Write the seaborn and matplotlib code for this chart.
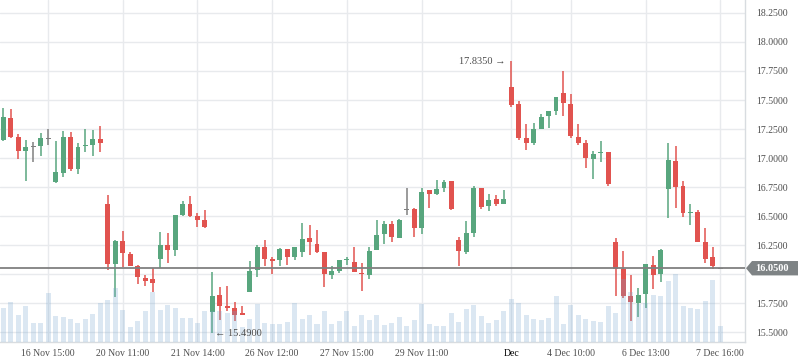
import numpy as np
import pandas as pd
import matplotlib
matplotlib.use("Agg")
import matplotlib.pyplot as plt
import matplotlib.transforms as mtransforms
from matplotlib.patches import Polygon
import seaborn as sns

# OHLC values, one entry per bar
opens = [17.155, 17.345, 17.181, 17.060, 17.100, 17.106, 17.169, 16.793, 16.873, 17.181,
         16.905, 17.106, 17.115, 17.161, 16.603, 16.089, 16.284, 16.172, 16.072, 15.965,
         15.957, 16.129, 16.250, 16.207, 16.508, 16.603, 16.500, 16.465, 15.675, 15.819,
         15.724, 15.704, 15.664, 15.848, 16.031, 16.233, 16.132, 16.124, 16.216, 16.149,
         16.193, 16.310, 16.259, 16.190, 15.994, 16.029, 16.122, 16.101, 16.009, 15.994,
         16.210, 16.348, 16.431, 16.308, 16.557, 16.557, 16.399, 16.721, 16.690, 16.739,
         16.802, 16.293, 16.193, 16.356, 16.744, 16.589, 16.646, 16.603, 17.612, 17.465,
         17.172, 17.132, 17.253, 17.362, 17.408, 17.563, 17.465, 17.181, 17.129, 16.994,
         17.040, 17.052, 16.276, 16.040, 15.810, 15.753, 15.828, 16.078, 16.000, 16.733,
         16.974, 16.759, 16.531, 16.535, 16.276, 16.147, 16.050]
highs = [17.428, 17.422, 17.207, 17.155, 17.135, 17.215, 17.250, 17.149, 17.233, 17.224,
         17.126, 17.250, 17.241, 17.276, 16.681, 16.293, 16.370, 16.189, 16.080, 15.991,
         16.049, 16.362, 16.353, 16.508, 16.629, 16.672, 16.523, 16.552, 16.017, 15.888,
         15.896, 15.758, 15.724, 16.112, 16.250, 16.293, 16.149, 16.227, 16.216, 16.233,
         16.440, 16.422, 16.379, 16.190, 16.069, 16.121, 16.149, 16.233, 16.095, 16.233,
         16.465, 16.457, 16.457, 16.474, 16.741, 16.566, 16.741, 16.721, 16.810, 16.810,
         16.802, 16.316, 16.457, 16.761, 16.744, 16.690, 16.681, 16.724, 17.835, 17.488,
         17.293, 17.301, 17.379, 17.408, 17.526, 17.750, 17.552, 17.293, 17.155, 17.060,
         17.147, 17.052, 16.310, 16.198, 15.991, 15.879, 16.086, 16.155, 16.216, 17.129,
         17.103, 16.802, 16.603, 16.552, 16.397, 16.233, 16.050]
lows = [17.150, 17.172, 16.991, 16.804, 16.968, 17.020, 17.112, 16.787, 16.836, 16.885,
        16.865, 17.054, 17.020, 17.054, 16.031, 15.799, 16.057, 16.065, 15.914, 15.899,
        15.847, 16.052, 16.098, 16.158, 16.500, 16.488, 16.405, 16.396, 15.490, 15.603,
        15.684, 15.598, 15.649, 15.848, 15.974, 16.072, 16.003, 16.072, 16.080, 16.124,
        16.149, 16.167, 16.184, 15.891, 15.960, 16.011, 16.078, 16.020, 15.856, 15.957,
        16.210, 16.261, 16.279, 16.308, 16.511, 16.322, 16.348, 16.572, 16.681, 16.710,
        16.552, 16.072, 16.175, 16.322, 16.557, 16.546, 16.589, 16.603, 17.442, 17.155,
        17.071, 17.115, 17.253, 17.258, 17.371, 17.365, 17.175, 17.115, 16.917, 16.816,
        16.969, 16.762, 15.813, 15.796, 15.598, 15.632, 15.707, 15.871, 15.931, 16.483,
        16.569, 16.491, 16.422, 16.276, 16.095, 16.043, 16.050]
closes = [17.356, 17.181, 17.060, 17.095, 17.100, 17.172, 17.169, 16.879, 17.181, 16.905,
          17.095, 17.115, 17.161, 17.132, 16.089, 16.284, 16.184, 16.072, 15.977, 15.942,
          15.925, 16.250, 16.207, 16.508, 16.603, 16.497, 16.465, 16.405, 15.810, 15.727,
          15.707, 15.649, 15.649, 16.026, 16.233, 16.132, 16.115, 16.216, 16.149, 16.233,
          16.302, 16.279, 16.193, 16.003, 16.023, 16.121, 16.126, 16.020, 16.005, 16.198,
          16.333, 16.431, 16.316, 16.468, 16.557, 16.399, 16.710, 16.693, 16.733, 16.790,
          16.560, 16.201, 16.351, 16.744, 16.580, 16.638, 16.603, 16.646, 17.460, 17.169,
          17.132, 17.250, 17.353, 17.408, 17.526, 17.471, 17.189, 17.132, 17.000, 17.035,
          17.052, 16.779, 16.043, 15.813, 15.759, 15.819, 16.086, 15.991, 16.207, 16.983,
          16.750, 16.526, 16.535, 16.276, 16.130, 16.069, 16.050]
volumes = [34, 40, 27, 36, 19, 19, 49, 26, 25, 23,
           19, 23, 28, 39, 42, 54, 32, 15, 21, 31,
           50, 32, 37, 34, 24, 24, 19, 31, 31, 31,
           29, 31, 15, 23, 38, 19, 18, 18, 20, 39,
           23, 27, 18, 31, 18, 21, 31, 16, 27, 22,
           27, 17, 19, 25, 16, 22, 38, 18, 16, 16,
           29, 20, 33, 37, 26, 19, 22, 31, 43, 39,
           27, 23, 22, 24, 46, 18, 37, 27, 23, 21,
           20, 36, 29, 63, 50, 38, 39, 47, 46, 61,
           68, 36, 34, 33, 41, 62, 16]

tick_pos = [6, 16, 26, 36, 46, 56, 68, 76, 86, 96]
tick_labels = ['16 Nov 15:00', '20 Nov 11:00', '21 Nov 14:00', '26 Nov 12:00',
               '27 Nov 15:00', '29 Nov 11:00', 'Dec', '4 Dec 10:00',
               '6 Dec 13:00', '7 Dec 16:00']
price_ticks = [15.50, 15.75, 16.00, 16.25, 16.50, 16.75, 17.00, 17.25,
               17.50, 17.75, 18.00, 18.25]
last_price = 16.05

GREEN = '#58a67e'
RED = '#e1534f'
GRAY = '#808080'
GRID = '#e8eaed'
TEXT = '#4d4d4d'

sns.set_theme(style='white')
plt.rcParams['font.family'] = ['Liberation Serif', 'DejaVu Serif']

df = pd.DataFrame({'open': opens, 'high': highs, 'low': lows,
                   'close': closes, 'volume': volumes})
df['idx'] = np.arange(len(df))


def candle_color(o, c):
    if c > o:
        return GREEN
    if c < o:
        return RED
    return GRAY


colors = [candle_color(o, c) for o, c in zip(df.open, df.close)]

fig = plt.figure(figsize=(7.98, 3.63), dpi=100)
ax = fig.add_axes([0, 21 / 363, 745 / 798, 342 / 363])
ax2 = ax.twinx()  # volume axis, drawn over the candles

# wicks and bodies
ax.vlines(df.idx, df.low, df.high, colors=colors, lw=1.1, zorder=3)
lo = np.minimum(df.open, df.close)
diff = (df.close - df.open).abs()
min_h = 0.009
body_h = np.maximum(diff, min_h)
body_bottom = np.where(diff < min_h, (df.open + df.close) / 2 - min_h / 2, lo)
ax.bar(df.idx, body_h, bottom=body_bottom, width=0.66, color=colors,
       linewidth=0, zorder=3)

# last price line
ax.axhline(last_price, color='#808080', lw=1.3, zorder=4)

ax.set_xlim(-0.44, 99.3)
ax.set_ylim(15.414, 18.362)
ax.set_yticks(price_ticks)
# the 16.0000 label sits under the last-price tag in the original
ax.set_yticklabels(['' if abs(v - last_price) < 0.1 else f'{v:.4f}'
                    for v in price_ticks])
ax.yaxis.tick_right()
ax.set_xticks(tick_pos)
ax.set_xticklabels(tick_labels)
ax.grid(True, color=GRID, lw=1)
ax.set_axisbelow(True)
ax.tick_params(axis='y', length=0, pad=8, labelsize=7, labelcolor=TEXT)
ax.tick_params(axis='x', length=3, width=1, color='#d8dce0', pad=2,
               labelsize=7, labelcolor=TEXT)
for lab in ax.get_xticklabels():
    if lab.get_text() == 'Dec':
        lab.set_color('#000000')
for s in ['top', 'left']:
    ax.spines[s].set_visible(False)
for s in ['right', 'bottom']:
    ax.spines[s].set_color('#d8dce0')
    ax.spines[s].set_linewidth(1)

sns.barplot(x=df.idx, y=df.volume, native_scale=True, color='#73a3cf',
            alpha=0.25, width=0.67, errorbar=None, saturation=1,
            linewidth=0, ax=ax2)
ax2.set_ylim(0, 342)
ax2.set_xlim(-0.44, 99.3)
ax2.yaxis.set_visible(False)
ax2.xaxis.set_visible(False)
for s in ax2.spines.values():
    s.set_visible(False)

# high / low markers
i_hi = int(df.high.idxmax())
i_lo = int(df.low.idxmin())
ax2.annotate(f'{df.high[i_hi]:.4f} \u2192', xy=(i_hi, df.high[i_hi]),
             xycoords=ax.transData, xytext=(-4, 0), textcoords='offset points',
             ha='right', va='center', fontsize=7.5, color=TEXT)
ax2.annotate(f'\u2190 {df.low[i_lo]:.4f}', xy=(i_lo, df.low[i_lo]),
             xycoords=ax.transData, xytext=(2, 0), textcoords='offset points',
             ha='left', va='center', fontsize=7.5, color=TEXT)

# last price tag on the right axis
trans = mtransforms.blended_transform_factory(ax.transAxes, ax.transData)
h = 0.062
x0, x1, x2 = 746 / 745, 752 / 745, 798 / 745
tag = Polygon([(x0, last_price), (x1, last_price + h), (x2, last_price + h),
               (x2, last_price - h), (x1, last_price - h)],
              closed=True, transform=trans, clip_on=False,
              facecolor='#7e8385', edgecolor='none', zorder=10)
ax2.add_patch(tag)
ax2.text(772 / 745, last_price, f'{last_price:.4f}', transform=trans,
         ha='center', va='center', fontsize=7.5, color='white',
         fontweight='bold', zorder=11, clip_on=False)

fig.savefig('out.png', dpi=100)
